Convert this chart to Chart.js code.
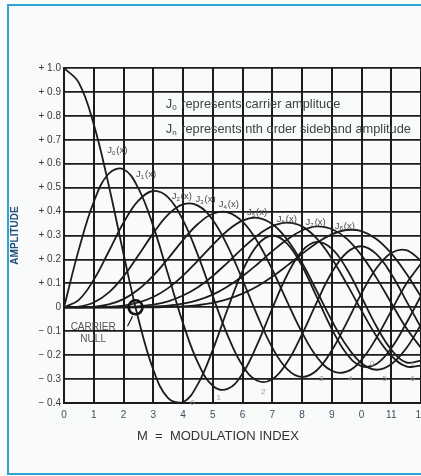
<!DOCTYPE html>
<html>
<head>
<meta charset="utf-8">
<script src="https://cdn.jsdelivr.net/npm/chart.js@4.4.1/dist/chart.umd.min.js"></script>
<style>
  html, body { margin: 0; padding: 0; width: 421px; height: 476px; overflow: hidden; background: #fbfcfc; }
  #frame {
    position: absolute; left: 7px; top: 4px; width: 412px; height: 467px;
    border-left: 2px solid #2fa3d6; border-top: 2px solid #2fa3d6; border-bottom: 2px solid #2fa3d6;
    background: #f9fafa;
  }
  #c { position: absolute; left: 0; top: 0; }
</style>
</head>
<body>
<div id="frame"></div>
<canvas id="c" width="421" height="476"></canvas>
<script>
// modulation index (x) and Bessel function amplitudes
const modIndex = [0, 0.5, 1, 1.5, 2, 2.5, 3, 3.5, 4, 4.5, 5, 5.5, 6, 6.5, 7, 7.5, 8, 8.5, 9, 9.5, 10, 10.5, 11, 11.5, 12]
const J0 = [1.000, 0.938, 0.765, 0.512, 0.224, -0.048, -0.260, -0.380, -0.397, -0.321, -0.178, -0.007, 0.151, 0.260, 0.300, 0.266, 0.172, 0.042, -0.090, -0.194, -0.246, -0.237, -0.171, -0.068, 0.048]
const J1 = [0, 0.242, 0.440, 0.558, 0.577, 0.497, 0.339, 0.137, -0.066, -0.231, -0.328, -0.341, -0.277, -0.154, -0.005, 0.135, 0.235, 0.273, 0.245, 0.161, 0.043, -0.079, -0.177, -0.230, -0.223]
const J2 = [0, 0.031, 0.115, 0.232, 0.353, 0.446, 0.486, 0.459, 0.364, 0.218, 0.047, -0.117, -0.243, -0.307, -0.301, -0.230, -0.113, 0.022, 0.145, 0.228, 0.255, 0.222, 0.139, 0.028, -0.085]
const J3 = [0, 0.003, 0.020, 0.061, 0.129, 0.217, 0.309, 0.387, 0.430, 0.425, 0.365, 0.256, 0.115, -0.035, -0.168, -0.258, -0.291, -0.263, -0.181, -0.065, 0.058, 0.163, 0.227, 0.239, 0.195]
const J4 = [0, 0, 0.002, 0.012, 0.034, 0.074, 0.132, 0.204, 0.281, 0.348, 0.391, 0.397, 0.358, 0.275, 0.158, 0.024, -0.105, -0.208, -0.265, -0.269, -0.220, -0.128, -0.015, 0.097, 0.183]
const J5 = [0, 0, 0, 0.002, 0.007, 0.020, 0.043, 0.080, 0.132, 0.195, 0.261, 0.321, 0.362, 0.374, 0.348, 0.283, 0.186, 0.067, -0.055, -0.161, -0.234, -0.261, -0.238, -0.172, -0.073]
const J6 = [0, 0, 0, 0, 0.001, 0.004, 0.011, 0.025, 0.049, 0.084, 0.131, 0.187, 0.246, 0.300, 0.339, 0.354, 0.338, 0.287, 0.204, 0.099, -0.014, -0.120, -0.202, -0.247, -0.244]
const J7 = [0, 0, 0, 0, 0, 0.001, 0.003, 0.007, 0.015, 0.030, 0.053, 0.087, 0.130, 0.180, 0.234, 0.283, 0.321, 0.338, 0.327, 0.287, 0.217, 0.124, 0.018, -0.086, -0.170]
const J8 = [0, 0, 0, 0, 0, 0, 0, 0.002, 0.004, 0.009, 0.018, 0.034, 0.057, 0.088, 0.128, 0.174, 0.223, 0.269, 0.305, 0.323, 0.318, 0.285, 0.225, 0.142, 0.045]

const xTickLabels = ['0', '1', '2', '3', '4', '5', '6', '7', '8', '9', '0', '11', '12']
const yTickLabels = ['\u2212 0.4', '\u2212 0.3', '\u2212 0.2', '\u2212 0.1', '0', '+ 0.1', '+ 0.2', '+ 0.3', '+ 0.4', '+ 0.5', '+ 0.6', '+ 0.7', '+ 0.8', '+ 0.9', '+ 1.0']

const FONT = "'Liberation Sans', Arial, sans-serif"
const INK = '#1c1c1c'

let seriesList = [J0, J1, J2, J3, J4, J5, J6, J7, J8]
let datasets = seriesList.map(function(vals, n) {
  return {
    label: 'J' + n,
    data: vals.map((v, i) => ({ x: modIndex[i], y: v })),
    borderColor: INK,
    borderWidth: 1.8,
    pointRadius: 0,
    tension: 0.4,
    fill: false,
  }
})

// J with a small subscript, e.g. J0(x)
function drawJ(ctx, px, py, sub, rest, size, color) {
  ctx.fillStyle = color
  ctx.textAlign = 'left'
  ctx.textBaseline = 'middle'
  ctx.font = size + 'px ' + FONT
  ctx.fillText('J', px, py)
  let w = ctx.measureText('J').width
  ctx.font = Math.round(size * 0.62) + 'px ' + FONT
  ctx.fillText(sub, px + w, py + size * 0.3)
  let w2 = ctx.measureText(sub).width
  ctx.font = size + 'px ' + FONT
  ctx.fillText(rest, px + w + w2 + 1, py)
}

const notes = {
  id: 'notes',
  afterDatasetsDraw(chart) {
    const ctx = chart.ctx
    const xs = chart.scales.x, ys = chart.scales.y
    const X = v => xs.getPixelForValue(v), Y = v => ys.getPixelForValue(v)
    ctx.save()

    // explanation lines
    drawJ(ctx, X(3.42), Y(0.848), '0', ' represents carrier amplitude', 12.8, '#3a4640')
    drawJ(ctx, X(3.42), Y(0.744), 'n', ' represents nth order sideband amplitude', 12.8, '#3a4640')

    // curve labels
    let curveLabels = [
      [1.45, 0.656], [2.42, 0.556], [3.62, 0.462], [4.42, 0.452], [5.2, 0.428],
      [6.15, 0.395], [7.15, 0.366], [8.12, 0.353], [9.1, 0.34],
    ]
    curveLabels.forEach(function(p, n) {
      drawJ(ctx, X(p[0]), Y(p[1]), String(n), '(x)', 9.5, '#4a4a4a')
    })

    // carrier null marker
    let cx = X(2.405), cy = Y(0)
    ctx.strokeStyle = '#111'
    ctx.lineWidth = 2.6
    ctx.beginPath()
    ctx.arc(cx, cy, 7, 0, Math.PI * 2)
    ctx.stroke()
    ctx.lineWidth = 1.2
    ctx.beginPath()
    ctx.moveTo(cx - 3, cy + 9)
    ctx.lineTo(cx - 8, cy + 19)
    ctx.stroke()
    ctx.fillStyle = '#555'
    ctx.font = '10px ' + FONT
    ctx.textAlign = 'center'
    ctx.textBaseline = 'middle'
    ctx.fillText('CARRIER', X(0.98), Y(-0.084))
    ctx.fillText('NULL', X(0.98), Y(-0.134))

    // faint order numbers beside the minima
    let minimaMarks = [
      ['0', 4.32, -0.4], ['1', 5.2, -0.378], ['2', 6.7, -0.355], ['3', 8.65, -0.3],
      ['4', 9.62, -0.3], ['5', 10.78, -0.3], ['6', 11.72, -0.3], ['0', 10.35, -0.238], ['1', 11.72, -0.238],
    ]
    ctx.fillStyle = '#9a9a9a'
    ctx.font = '8px ' + FONT
    minimaMarks.forEach(m => ctx.fillText(m[0], X(m[1]), Y(m[2])))

    // x axis title, set left of centre as in the original
    ctx.fillStyle = '#333'
    ctx.font = '13px ' + FONT
    ctx.fillText('M  =  MODULATION INDEX', 218, 436)
    ctx.restore()
  },
}

new Chart(document.getElementById('c'), {
  type: 'line',
  data: { datasets: datasets },
  options: {
    responsive: false,
    animation: false,
    events: [],
    layout: { padding: { left: 0, top: 68, right: 0, bottom: 0 } },
    plugins: { legend: { display: false }, tooltip: { enabled: false } },
    scales: {
      x: {
        type: 'linear',
        min: 0,
        max: 12,
        afterFit: s => {
          s.height = 73
          s.paddingLeft = 0
          s.paddingRight = 0
        },
        ticks: {
          stepSize: 1,
          padding: 6,
          maxRotation: 0,
          color: '#3d4f5f',
          font: { family: FONT, size: 10 },
          callback: v => xTickLabels[Math.round(v)],
        },
        grid: { color: INK, lineWidth: 2, drawTicks: false },
        border: { color: INK, width: 2 },
      },
      y: {
        min: -0.4,
        max: 1.0,
        afterFit: s => { s.width = 64 },
        ticks: {
          stepSize: 0.1,
          padding: 3,
          color: '#3a3a3a',
          font: { family: FONT, size: 10 },
          callback: v => yTickLabels[Math.round(v * 10) + 4],
        },
        grid: { color: INK, lineWidth: 1.8, drawTicks: false },
        border: { color: INK, width: 2 },
        title: {
          display: true,
          text: 'AMPLITUDE',
          color: '#1f4f7a',
          font: { family: FONT, size: 10, weight: 'bold' },
          padding: { top: 9, bottom: 0 },
        },
      },
    },
  },
  plugins: [notes],
})
</script>
</body>
</html>
